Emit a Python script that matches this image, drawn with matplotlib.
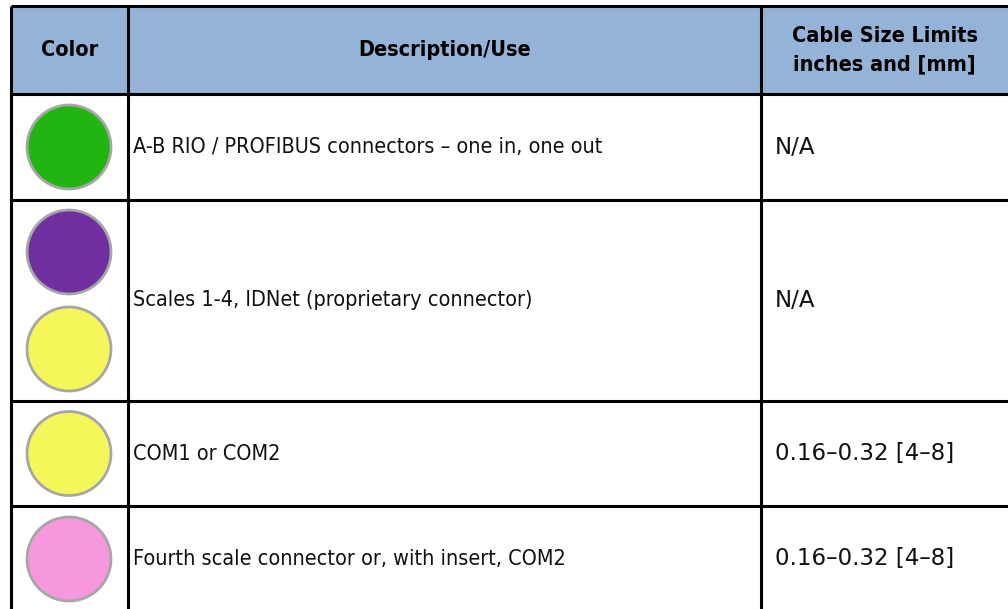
import matplotlib
matplotlib.use("Agg")
import matplotlib.pyplot as plt
from matplotlib.patches import Circle, Rectangle

# table content
headers = ["Color", "Description/Use", "Cable Size Limits\ninches and [mm]"]
row_colors = [["#22b512"], ["#6f2f9e", "#f5f65a"], ["#f5f65a"], ["#f598dd"]]
descriptions = [
    "A-B RIO / PROFIBUS connectors \u2013 one in, one out",
    "Scales 1-4, IDNet (proprietary connector)",
    "COM1 or COM2",
    "Fourth scale connector or, with insert, COM2",
]
cable_sizes = ["N/A", "N/A", "0.16\u20130.32 [4\u20138]", "0.16\u20130.32 [4\u20138]"]

# layout in pixels (table is cut off at right and bottom edges)
W, H = 1008, 609
col_x = [11, 128, 761, 1010]
row_y = [6, 94, 200, 401, 506, 612]
FONT = ["DejaVu Sans"]

fig = plt.figure(figsize=(W / 100, H / 100), dpi=100)
ax = fig.add_axes([0, 0, 1, 1])
ax.set_xlim(0, W)
ax.set_ylim(H, 0)
ax.axis("off")

# header background
ax.add_patch(Rectangle((col_x[0], row_y[0]), col_x[-1] - col_x[0], row_y[1] - row_y[0],
                       facecolor="#95b3d7", edgecolor="none"))

for i, h in enumerate(headers):
    cx = (col_x[i] + min(col_x[i + 1], 1008)) / 2
    ax.text(cx, (row_y[0] + row_y[1]) / 2, h, ha="center", va="center",
            fontsize=15.5, fontweight="bold", family=FONT, fontstretch="condensed",
            linespacing=1.55)

for r in range(len(descriptions)):
    yc = (row_y[r + 1] + row_y[r + 2]) / 2
    cols = row_colors[r]
    n = len(cols)
    for k, c in enumerate(cols):
        cy = yc + (k - (n - 1) / 2) * 97
        ax.add_patch(Circle((69, cy), 42, facecolor=c, edgecolor="#a6a6a6", linewidth=2))
    ax.text(col_x[1] + 5, yc, descriptions[r], ha="left", va="center",
            fontsize=15.5, family=FONT, fontstretch="condensed", color="#111111")
    ax.text(col_x[2] + 14, yc, cable_sizes[r], ha="left", va="center",
            fontsize=16.5, family=FONT, fontstretch="normal", color="#111111")

# grid lines
for x in col_x[:-1]:
    ax.plot([x, x], [row_y[0], H], color="black", linewidth=2.2, solid_capstyle="butt")
for y in row_y[:-1]:
    ax.plot([col_x[0], col_x[-1]], [y, y], color="black", linewidth=2.2, solid_capstyle="butt")

fig.savefig("out.png", dpi=100, facecolor="white")
